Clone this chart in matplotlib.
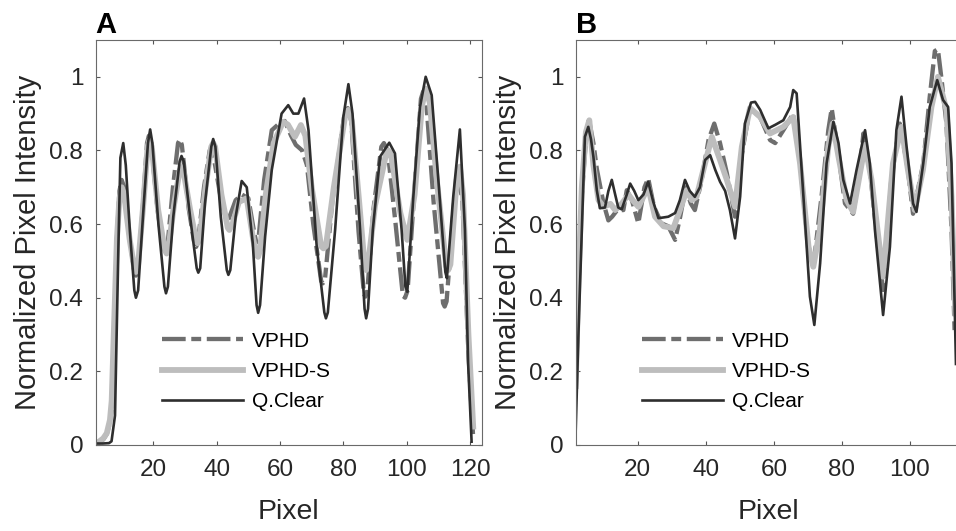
import numpy as np
import matplotlib
matplotlib.use("Agg")
import matplotlib.pyplot as plt

plt.rcParams['font.family'] = ['Liberation Sans', 'DejaVu Sans']

# ---- panel A profiles ----
vphd_a_x = [2, 3, 4.2, 5.3, 6.3, 6.85, 7.5, 8.5, 9.3, 10.0,
            10.8, 12.5, 14.0, 14.5, 15.2, 16.8, 18.0, 18.6, 19.3, 21.3,
            23.2, 23.8, 24.4, 26.2, 27.8, 28.4, 29.0, 31.2, 33.0, 33.5,
            34.1, 36.0, 37.8, 38.4, 39.5, 41.5, 43.0, 43.6, 44.5, 46.0,
            48.0, 50.0, 51.8, 52.5, 53.2, 55.0, 57.4, 60.0, 61.5, 63.5,
            65.0, 67.0, 68.5, 70.5, 73.0, 73.5, 74.2, 76.5, 80.2, 81.4,
            82.5, 84.8, 86.5, 87.0, 87.6, 89.5, 92.0, 92.8, 94.0, 96.5,
            98.8, 99.5, 100.3, 102.5, 104.5, 105.2, 106.2, 108.5, 111.5, 112.0,
            112.6, 115.0, 116.5, 117.6, 119.5, 121.0]
vphd_a_y = [0.005, 0.008, 0.015, 0.03, 0.06, 0.10, 0.28, 0.56, 0.69, 0.72,
            0.70, 0.56, 0.47, 0.46, 0.48, 0.66, 0.82, 0.84, 0.82, 0.64,
            0.53, 0.52, 0.535, 0.70, 0.82, 0.83, 0.815, 0.64, 0.545, 0.538,
            0.55, 0.70, 0.80, 0.81, 0.76, 0.66, 0.615, 0.61, 0.63, 0.665,
            0.68, 0.67, 0.58, 0.55, 0.56, 0.72, 0.855, 0.875, 0.88, 0.84,
            0.815, 0.80, 0.76, 0.60, 0.445, 0.439, 0.45, 0.66, 0.89, 0.915,
            0.88, 0.58, 0.41, 0.403, 0.42, 0.64, 0.81, 0.82, 0.80, 0.60,
            0.405, 0.40, 0.42, 0.70, 0.94, 0.96, 0.93, 0.66, 0.385, 0.376,
            0.39, 0.66, 0.73, 0.66, 0.25, 0.02]

vphds_a_x = [2, 3, 4.2, 5.3, 6.3, 6.85, 7.5, 8.5, 9.3, 10.0,
             10.8, 12.5, 14.0, 14.5, 15.2, 16.8, 18.2, 18.8, 19.5, 21.5,
             23.6, 24.2, 24.8, 26.5, 28.3, 28.9, 29.5, 31.6, 33.5, 34.0,
             34.6, 36.5, 38.3, 38.9, 39.5, 41.5, 43.5, 44.0, 45.0, 47.0,
             49.5, 51.5, 52.6, 53.1, 53.7, 55.5, 58.0, 61.0, 62.5, 64.7,
             66.6, 68.0, 70.0, 73.0, 73.7, 74.5, 77.0, 80.5, 81.6, 82.7,
             85.0, 86.7, 87.2, 87.8, 90.0, 93.5, 94.2, 95.0, 98.0, 100.2,
             102.5, 104.8, 106.0, 107.3, 109.5, 112.5, 113.1, 113.8, 115.8, 116.8,
             117.8, 119.5, 121.0]
vphds_a_y = [0.005, 0.01, 0.018, 0.032, 0.068, 0.12, 0.30, 0.56, 0.67, 0.70,
             0.68, 0.56, 0.48, 0.47, 0.49, 0.65, 0.81, 0.828, 0.81, 0.64,
             0.53, 0.52, 0.535, 0.65, 0.745, 0.755, 0.745, 0.64, 0.555, 0.548,
             0.56, 0.70, 0.81, 0.82, 0.81, 0.68, 0.59, 0.584, 0.60, 0.66,
             0.67, 0.56, 0.515, 0.511, 0.53, 0.68, 0.82, 0.878, 0.87, 0.837,
             0.869, 0.84, 0.70, 0.54, 0.534, 0.54, 0.70, 0.89, 0.91, 0.88,
             0.66, 0.49, 0.475, 0.49, 0.65, 0.79, 0.80, 0.79, 0.63, 0.557,
             0.68, 0.92, 0.968, 0.93, 0.72, 0.485, 0.475, 0.49, 0.72, 0.756,
             0.68, 0.30, 0.05]

qclear_a_x = [2, 4, 6, 6.8, 7.9, 9.0, 9.6, 10.5, 11.3, 12.6,
              14.0, 14.5, 15.2, 16.8, 18.3, 19.0, 19.7, 21.6, 23.5, 24.0,
              24.6, 26.3, 28.3, 28.9, 29.6, 31.6, 33.7, 34.2, 34.8, 36.3,
              38.3, 38.9, 39.6, 41.3, 43.2, 43.7, 44.3, 46.0, 47.9, 49.5,
              51.4, 52.6, 53.1, 53.7, 55.3, 57.4, 60.5, 62.6, 64.2, 65.8,
              67.6, 69.0, 71.6, 74.0, 74.5, 75.1, 77.4, 80.0, 81.6, 82.9,
              85.3, 86.7, 87.2, 87.8, 89.3, 91.6, 94.5, 96.3, 98.4, 99.6,
              100.2, 102.1, 104.2, 106.0, 107.9, 110.0, 112.2, 112.7, 114.7, 116.8,
              118.4, 119.4, 120.5]
qclear_a_y = [0.004, 0.004, 0.005, 0.01, 0.08, 0.55, 0.78, 0.82, 0.76, 0.58,
              0.42, 0.40, 0.42, 0.63, 0.82, 0.857, 0.82, 0.60, 0.43, 0.412,
              0.43, 0.62, 0.77, 0.785, 0.77, 0.62, 0.48, 0.468, 0.48, 0.656,
              0.81, 0.831, 0.81, 0.62, 0.475, 0.462, 0.475, 0.62, 0.717, 0.70,
              0.548, 0.38, 0.359, 0.38, 0.566, 0.747, 0.90, 0.923, 0.90, 0.90,
              0.941, 0.855, 0.538, 0.36, 0.344, 0.36, 0.584, 0.891, 0.98, 0.90,
              0.584, 0.37, 0.344, 0.37, 0.584, 0.783, 0.821, 0.792, 0.584, 0.43,
              0.416, 0.674, 0.918, 1.0, 0.95, 0.72, 0.47, 0.453, 0.674, 0.857,
              0.584, 0.222, 0.009]

# ---- panel B profiles ----
vphd_b_x = [1.8, 2.6, 3.6, 4.9, 5.9, 7.0, 8.0, 10.0, 11.4, 12.5,
            14.0, 15.8, 16.8, 18.3, 20.2, 22.0, 23.1, 24.8, 27.0, 29.0,
            31.0, 32.5, 34.1, 35.6, 36.8, 38.8, 40.8, 42.5, 44.2, 46.2,
            48.6, 50.6, 53.0, 56.0, 58.9, 60.4, 62.8, 65.7, 67.7, 70.2,
            71.6, 74.0, 76.0, 77.0, 78.5, 80.9, 83.3, 85.3, 86.3, 88.2,
            90.6, 92.1, 94.5, 97.0, 99.4, 100.9, 103.9, 105.8, 107.3, 108.2,
            109.3, 110.7, 112.2, 113.1]
vphd_b_y = [0.14, 0.42, 0.68, 0.84, 0.873, 0.82, 0.75, 0.655, 0.61, 0.62,
            0.638, 0.638, 0.692, 0.665, 0.602, 0.70, 0.724, 0.647, 0.602, 0.594,
            0.557, 0.62, 0.70, 0.656, 0.638, 0.72, 0.828, 0.873, 0.82, 0.738,
            0.62, 0.79, 0.915, 0.89, 0.828, 0.82, 0.855, 0.90, 0.765, 0.53,
            0.484, 0.674, 0.855, 0.914, 0.82, 0.656, 0.628, 0.747, 0.846, 0.747,
            0.538, 0.421, 0.72, 0.873, 0.747, 0.628, 0.765, 0.946, 1.07, 1.075,
            0.991, 0.873, 0.584, 0.312]

vphds_b_x = [1.8, 2.6, 3.6, 4.8, 5.8, 7.0, 8.5, 10.0, 12.0, 13.4,
             15.3, 17.3, 18.5, 20.2, 23.1, 25.1, 27.6, 30.5, 32.4, 34.4,
             35.9, 37.3, 39.3, 41.8, 44.2, 46.2, 48.6, 50.6, 53.0, 56.0,
             58.9, 62.8, 65.7, 67.7, 70.2, 71.6, 73.5, 76.0, 77.3, 79.0,
             81.4, 83.3, 85.3, 86.8, 88.7, 92.1, 95.0, 97.5, 99.4, 101.4,
             103.8, 106.3, 108.2, 110.7, 112.2, 113.3]
vphds_b_y = [0.16, 0.45, 0.70, 0.85, 0.882, 0.76, 0.665, 0.647, 0.655, 0.638,
             0.655, 0.68, 0.665, 0.647, 0.70, 0.62, 0.594, 0.589, 0.638, 0.692,
             0.665, 0.674, 0.747, 0.837, 0.774, 0.72, 0.647, 0.81, 0.915, 0.891,
             0.846, 0.864, 0.891, 0.765, 0.538, 0.484, 0.584, 0.81, 0.873, 0.783,
             0.665, 0.633, 0.738, 0.815, 0.72, 0.457, 0.765, 0.864, 0.747, 0.638,
             0.747, 0.918, 1.0, 0.91, 0.674, 0.357]

qclear_b_x = [1.8, 2.6, 3.6, 4.5, 5.5, 6.3, 7.0, 8.0, 8.9, 10.4,
              11.4, 12.4, 13.4, 14.3, 15.3, 16.8, 17.8, 19.0, 20.2, 21.7,
              23.1, 24.6, 26.1, 27.6, 29.0, 31.0, 32.4, 33.9, 35.3, 36.8,
              38.3, 39.8, 41.3, 42.8, 44.2, 45.7, 47.1, 48.6, 50.1, 51.5,
              53.3, 54.5, 56.0, 58.4, 60.5, 62.8, 64.8, 65.7, 66.7, 68.7,
              70.6, 71.9, 73.6, 75.5, 77.5, 79.0, 80.4, 82.4, 84.3, 86.8,
              88.2, 89.7, 92.1, 94.1, 96.0, 97.5, 99.0, 100.9, 101.9, 103.9,
              105.8, 108.0, 109.7, 111.2, 112.2, 113.5]
qclear_b_y = [0.04, 0.30, 0.584, 0.837, 0.864, 0.83, 0.783, 0.692, 0.643, 0.645,
              0.69, 0.72, 0.68, 0.645, 0.64, 0.68, 0.71, 0.69, 0.665, 0.68,
              0.715, 0.66, 0.616, 0.618, 0.62, 0.63, 0.665, 0.72, 0.69, 0.674,
              0.70, 0.774, 0.787, 0.747, 0.715, 0.69, 0.638, 0.561, 0.674, 0.873,
              0.93, 0.932, 0.91, 0.86, 0.87, 0.882, 0.918, 0.964, 0.955, 0.674,
              0.403, 0.326, 0.493, 0.765, 0.878, 0.82, 0.72, 0.656, 0.747, 0.855,
              0.765, 0.584, 0.353, 0.538, 0.855, 0.946, 0.81, 0.656, 0.633, 0.765,
              0.918, 0.991, 0.937, 0.918, 0.765, 0.22]

series_labels = ["VPHD", "VPHD-S", "Q.Clear"]
yticks = [0, 0.2, 0.4, 0.6, 0.8, 1]
ytick_labels = ["0", "0.2", "0.4", "0.6", "0.8", "1"]


def draw_panel(ax, vx, vy, sx, sy, qx, qy, xlim, xticks):
    ax.plot(vx, vy, color="#6e6e6e", lw=3.1, linestyle=(0, (5.5, 1.3, 2.3, 1.3)),
            label=series_labels[0])
    ax.plot(sx, sy, color="#bdbdbd", lw=4.2, label=series_labels[1])
    ax.plot(qx, qy, color="#2e2e2e", lw=1.9, label=series_labels[2])
    ax.set_xlim(xlim)
    ax.set_ylim(0, 1.1)
    ax.set_xticks(xticks)
    ax.set_yticks(yticks)
    ax.set_yticklabels(ytick_labels)
    ax.tick_params(direction="in", length=3, width=0.8, color="#555555",
                   labelsize=17.5, labelcolor="#262626", top=True, right=True)
    ax.tick_params(axis="y", pad=9)
    ax.tick_params(axis="x", pad=10)
    for s in ax.spines.values():
        s.set_color("#6a6a6a")
        s.set_linewidth(0.8)
    ax.set_xlabel("Pixel", fontsize=20.5, color="#262626", labelpad=13)
    ax.set_ylabel("Normalized Pixel Intensity", fontsize=21, color="#262626",
                  labelpad=5)
    ax.legend(loc="upper left", bbox_to_anchor=(0.171, 0.28), frameon=False,
              fontsize=15, handlelength=3.9, handletextpad=0.43,
              labelspacing=0.55, borderpad=0, borderaxespad=0)


fig = plt.figure(figsize=(9.56, 5.31), dpi=100)
ax_a = fig.add_axes([0.1001, 0.162, 0.4038, 0.7627])
ax_b = fig.add_axes([0.6022, 0.162, 0.4038, 0.7627])

draw_panel(ax_a, vphd_a_x, vphd_a_y, vphds_a_x, vphds_a_y, qclear_a_x, qclear_a_y,
           (1.8, 123.7), [20, 40, 60, 80, 100, 120])
draw_panel(ax_b, vphd_b_x, vphd_b_y, vphds_b_x, vphds_b_y, qclear_b_x, qclear_b_y,
           (1.8, 115.2), [20, 40, 60, 80, 100])

fig.text(95.7 / 956, 1 - 33 / 531, "A", fontsize=21, fontweight="bold",
         ha="left", va="baseline")
fig.text(575.7 / 956, 1 - 33 / 531, "B", fontsize=21, fontweight="bold",
         ha="left", va="baseline")

fig.savefig("out.png", dpi=100)
